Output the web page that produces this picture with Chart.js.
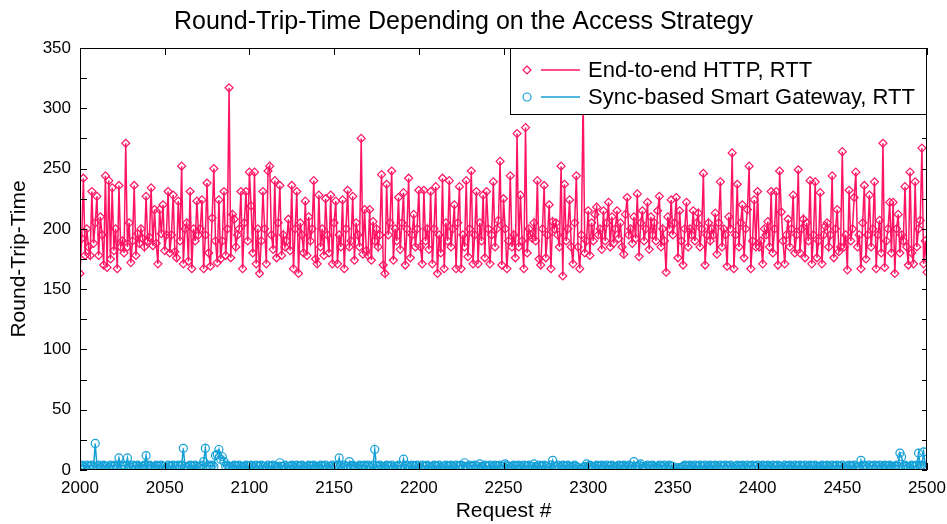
<!DOCTYPE html>
<html>
<head>
<meta charset="utf-8">
<script src="https://cdn.jsdelivr.net/npm/chart.js@4"></script>
<style>
  body { margin: 0; background: #fff; }
</style>
</head>
<body>
<canvas id="rttChart" width="947" height="524"></canvas>
<script>
// ----- Data
const firstRequest = 2000;
const lastRequest = 2500;
const yTicks = [0, 50, 100, 150, 200, 250, 300, 350];

const httpRtt = [
    163,192,242,178,200,185,178,231,188,205, 227,178,210,195,170,244,168,240,175,234,
    182,200,167,236,185,190,180,271,185,205, 172,190,236,178,196,188,200,192,185,227,
    190,193,234,186,216,188,171,216,196,220,
    182,195,231,180,195,228,181,176,223,190, 252,171,200,205,173,231,167,200,190,223,
    195,200,224,167,195,238,180,169,209,250, 190,172,224,175,190,231,178,200,317,176,
    212,208,185,195,200,231,167,205,231,190, 247,
    219,180,247,171,200,163,190,231,200,171, 248,252,195,183,240,176,205,236,178,195,
    185,190,208,182,236,167,200,231,163,205, 195,180,223,178,210,190,200,240,175,171,
    228,185,200,178,225,195,180,228,171,205,
    223,171,195,185,224,167,200,232,185,190, 227,174,205,195,185,275,179,216,182,178,
    216,174,206,190,200,185,195,245,170,163, 237,195,205,248,174,200,190,226,183,205,
    230,170,200,242,176,195,212,185,200,232,
    185,171,232,190,200,183,231,171,200,235, 163,195,180,242,167,205,190,240,185,200,
    220,167,205,235,167,195,185,240,177,200, 248,171,195,231,171,205,190,228,176,231,
    200,171,195,239,185,200,207,256,170,225,
    200,167,190,244,185,195,176,279,185,228, 190,167,284,180,200,195,192,205,190,240,
    175,170,200,236,176,195,220,167,206,200, 205,195,185,252,161,237,190,200,224,185,
    171,205,244,185,167,195,310,180,190,215,
    178,205,190,212,218,195,200,183,215,190, 205,222,185,210,188,200,215,192,205,185,
    179,212,226,195,200,188,210,192,229,177, 205,215,190,200,222,183,210,195,205,190,
    215,227,185,200,190,164,210,200,224,195,
    205,226,176,215,190,170,200,222,185,200, 195,215,190,205,213,185,200,246,170,195,
    205,190,200,195,213,179,205,239,185,200, 195,169,210,200,263,167,195,237,185,205,
    220,176,200,216,252,167,190,224,185,231,
    185,190,171,200,195,206,185,231,180,200, 231,170,248,214,190,171,195,208,185,200,
    228,180,195,249,180,200,208,176,205,190, 240,171,195,239,176,190,230,171,195,202,
    205,185,195,244,176,200,216,181,185,264,
    185,195,166,232,190,200,226,247,185,195, 167,205,236,175,195,228,185,200,239,167,
    195,207,180,271,168,190,200,222,180,222, 163,200,212,180,195,190,235,185,170,247,
    180,171,239,185,200,207,267,171,190,164
];

const gatewayRtt = [
    3,4,3,2,4,3,3,4,3,22, 3,4,2,3,4,3,3,2,4,3,
    3,4,3,10,3,4,3,3,10,3, 2,4,3,3,4,3,2,3,4,12,
    3,4,3,2,3,4,3,3,4,3, 3,2,4,3,3,4,3,3,4,3,
    4,18,3,2,3,4,3,3,4,3, 2,3,4,7,18,3,4,3,4,3,
    12,13,17,9,11,7,3,4,3,2, 3,4,3,3,4,3,2,3,4,3,
    3,4,3,2,4,3,3,4,3,3, 2,4,3,3,4,3,2,3,6,3,
    3,4,2,3,3,4,3,2,4,3, 3,4,3,2,3,4,3,3,4,3,
    2,3,4,3,3,4,2,3,3,4, 3,3,4,10,3,2,4,3,3,7,
    3,4,3,2,3,4,3,3,4,3, 4,3,2,4,17,3,3,4,3,2,
    3,4,3,3,4,2,3,3,4,3, 3,9,3,4,2,3,4,3,3,4,
    3,2,4,3,3,4,3,2,3,4, 3,3,4,2,3,3,4,3,3,4,
    3,2,4,3,3,4,3,6,3,2, 4,3,3,4,3,3,5,3,2,4,
    3,3,4,2,3,4,3,3,4,3, 3,5,4,3,2,3,4,3,3,4,
    3,2,4,3,3,4,3,3,5,3, 2,4,3,3,4,3,3,2,4,8,
    3,3,4,2,3,4,3,3,4,3, 2,3,4,3,2,1,1,2,3,5,
    3,4,3,2,3,4,3,3,4,3, 2,4,3,3,4,3,2,3,4,3,
    3,4,3,2,4,3,3,7,3,3, 4,5,3,2,3,4,3,3,4,3,
    2,3,4,3,3,4,2,3,4,3, 3,1,1,2,1,2,3,4,3,3,
    4,3,2,4,3,3,4,3,3,4, 2,3,4,3,3,4,3,2,4,3,
    3,4,3,3,4,2,3,3,4,3, 3,4,3,2,4,3,3,4,3,3,
    4,2,3,4,3,3,4,3,2,4, 3,3,4,3,3,2,4,3,3,4,
    3,2,4,3,3,4,3,3,4,2, 3,4,3,3,4,3,2,3,4,3,
    3,4,3,2,4,3,3,4,3,3, 4,2,3,3,4,3,3,4,2,3,
    3,8,3,4,3,2,4,3,3,4, 3,3,4,2,3,4,3,3,4,3,
    2,3,4,3,14,11,3,4,3,2, 3,4,3,3,4,14,3,4,15,3,
    3
];

const requests = httpRtt.map((_, i) => firstRequest + i);
const httpColor = 'rgb(255, 20, 100)';
const gatewayColor = 'rgb(20, 160, 215)';

Chart.defaults.font.family = '"Liberation Sans", Arial, sans-serif';
Chart.defaults.color = '#000';

// ----- Frame with inward ticks (gnuplot style)
const frameTicks = {
    id: 'frameTicks',
    afterDatasetsDraw(chart) {
        const { ctx, chartArea: a, scales: { x, y } } = chart;
        ctx.save();
        ctx.strokeStyle = '#000';
        ctx.lineWidth = 1;
        ctx.strokeRect(a.left + 0.5, a.top + 0.5, a.right - a.left - 1, a.bottom - a.top - 1);
        ctx.beginPath();
        for (let v = x.min; v <= x.max; v += 50) {
            const px = Math.round(x.getPixelForValue(v)) + 0.5;
            ctx.moveTo(px, a.bottom); ctx.lineTo(px, a.bottom - 7);
            ctx.moveTo(px, a.top); ctx.lineTo(px, a.top + 7);
        }
        for (let v = y.min; v <= y.max; v += 25) {
            const py = Math.round(y.getPixelForValue(v)) + 0.5;
            ctx.moveTo(a.left, py); ctx.lineTo(a.left + 7, py);
            ctx.moveTo(a.right, py); ctx.lineTo(a.right - 5, py);
        }
        ctx.stroke();
        ctx.restore();
    }
};

// ----- Boxed legend inside the plot, top right
const boxLegend = {
    id: 'boxLegend',
    afterDraw(chart) {
        const { ctx, chartArea: a } = chart;
        const left = a.right - 417, top = a.top, h = 66;
        ctx.save();
        ctx.fillStyle = '#fff';
        ctx.fillRect(left, top, a.right - left, h);
        ctx.strokeStyle = '#000';
        ctx.lineWidth = 1;
        ctx.strokeRect(left + 0.5, top + 0.5, a.right - left - 1, h);
        chart.data.datasets.forEach((ds, i) => {
            const yy = top + 22 + i * 27;
            const mx = left + 17;
            ctx.strokeStyle = ds.borderColor;
            ctx.lineWidth = 1.5;
            ctx.beginPath();
            ctx.moveTo(left + 31, yy); ctx.lineTo(left + 70, yy);
            ctx.stroke();
            ctx.lineWidth = 1.2;
            ctx.beginPath();
            if (ds.pointStyle === 'rectRot') {
                ctx.moveTo(mx, yy - 4); ctx.lineTo(mx + 4, yy);
                ctx.lineTo(mx, yy + 4); ctx.lineTo(mx - 4, yy);
                ctx.closePath();
            } else {
                ctx.arc(mx, yy, 4, 0, Math.PI * 2);
            }
            ctx.stroke();
            ctx.fillStyle = '#000';
            ctx.font = '22px "Liberation Sans", Arial, sans-serif';
            ctx.textBaseline = 'middle';
            ctx.fillText(ds.label, left + 78, yy + 1);
        });
        ctx.restore();
    }
};

new Chart(document.getElementById('rttChart'), {
    type: 'line',
    data: {
        datasets: [
            {
                label: 'End-to-end HTTP, RTT',
                data: requests.map((r, i) => ({ x: r, y: httpRtt[i] })),
                borderColor: httpColor,
                borderWidth: 1.5,
                pointStyle: 'rectRot',
                pointRadius: 4,
                pointBorderWidth: 1.2,
                pointBorderColor: httpColor,
                pointBackgroundColor: 'rgba(0,0,0,0)',
                tension: 0
            },
            {
                label: 'Sync-based Smart Gateway, RTT',
                data: requests.map((r, i) => ({ x: r, y: gatewayRtt[i] })),
                borderColor: gatewayColor,
                borderWidth: 1.5,
                pointStyle: 'circle',
                pointRadius: 4,
                pointBorderWidth: 1.2,
                pointBorderColor: gatewayColor,
                pointBackgroundColor: 'rgba(0,0,0,0)',
                tension: 0
            }
        ]
    },
    options: {
        responsive: false,
        animation: false,
        devicePixelRatio: 1,
        layout: { padding: { top: 0, right: 20, bottom: 0, left: 0 } },
        plugins: {
            legend: { display: false },
            tooltip: { enabled: false },
            title: {
                display: true,
                text: 'Round-Trip-Time Depending on the Access Strategy',
                font: { size: 25, weight: 'normal' },
                color: '#000',
                padding: { top: 7, bottom: 11 }
            }
        },
        scales: {
            x: {
                type: 'linear',
                min: firstRequest,
                max: lastRequest,
                grid: { display: false, drawTicks: false },
                border: { display: false },
                ticks: {
                    stepSize: 50, maxRotation: 0, autoSkip: false, padding: 8,
                    font: { size: 17 }, color: '#000',
                    callback: v => String(v)
                },
                title: { display: true, text: 'Request #', font: { size: 21 }, color: '#000', padding: { top: 0, bottom: 0 } },
                afterFit(s) { s.height = 54; s.paddingLeft = 0; s.paddingRight = 0; }
            },
            y: {
                min: yTicks[0],
                max: yTicks[yTicks.length - 1],
                grid: { display: false, drawTicks: false },
                border: { display: false },
                afterBuildTicks(s) { s.ticks = yTicks.map(v => ({ value: v })); },
                ticks: { padding: 9, font: { size: 17 }, color: '#000' },
                title: { display: true, text: 'Round-Trip-Time', font: { size: 21 }, color: '#000', padding: { top: 7, bottom: 0 } },
                afterFit(s) { s.width = 80; s.paddingTop = 0; s.paddingBottom = 0; }
            }
        }
    },
    plugins: [frameTicks, boxLegend]
});
</script>
</body>
</html>
